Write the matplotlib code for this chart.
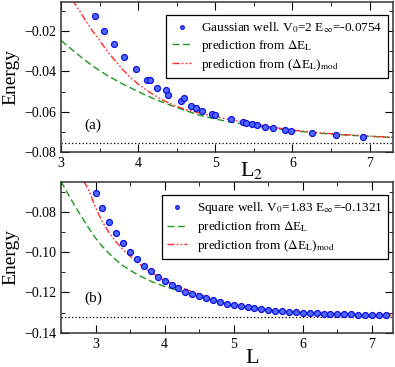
import matplotlib
matplotlib.use("Agg")
import matplotlib.pyplot as plt
from matplotlib.ticker import MultipleLocator, FuncFormatter

plt.rcParams["font.family"] = ["Liberation Serif", "DejaVu Serif"]
plt.rcParams["mathtext.fontset"] = "stix"

# --- panel (a): Gaussian well ---
E_inf_gauss = -0.0754
L2_pts = [3.44, 3.56, 3.69, 3.82, 3.97, 4.11, 4.16, 4.25, 4.36, 4.39, 4.55, 4.59,
          4.68, 4.75, 4.83, 4.96, 5.00, 5.20, 5.36, 5.40, 5.48, 5.54, 5.64, 5.75,
          5.91, 5.98, 6.25, 6.56, 6.91]
E_gauss_pts = [-0.0126, -0.0200, -0.0265, -0.0330, -0.0387, -0.0442, -0.0442, -0.0480,
               -0.0491, -0.0516, -0.0549, -0.0534, -0.0570, -0.0581, -0.0594, -0.0611,
               -0.0618, -0.0637, -0.0653, -0.0657, -0.0660, -0.0667, -0.0675, -0.0683,
               -0.0690, -0.0695, -0.0704, -0.0714, -0.0724]

L2_green = [3.0, 3.2, 3.4, 3.6, 3.8, 4.0, 4.2, 4.4, 4.6, 4.8, 5.0, 5.2, 5.4, 5.6,
            5.8, 6.0, 6.3, 6.6, 7.0, 7.3]
E_gauss_green = [-0.0246, -0.0310, -0.0370, -0.0420, -0.0462, -0.0500, -0.0535, -0.0565,
                 -0.0592, -0.0618, -0.0636, -0.0651, -0.0664, -0.0675, -0.0685, -0.0694,
                 -0.0705, -0.0714, -0.0722, -0.0728]

L2_red = [3.15, 3.2, 3.3, 3.4, 3.5, 3.6, 3.7, 3.8, 3.9, 4.0, 4.1, 4.2, 4.3, 4.4,
          4.5, 4.6, 4.8, 5.0, 5.2, 5.4, 5.6, 5.8, 6.0, 6.3, 6.6, 7.0, 7.3]
E_gauss_red = [-0.0045, -0.0075, -0.0135, -0.0195, -0.0245, -0.0300, -0.0345, -0.0390,
               -0.0430, -0.0462, -0.0490, -0.0516, -0.0538, -0.0557, -0.0573, -0.0588,
               -0.0606, -0.0624, -0.0640, -0.0655, -0.0667, -0.0680, -0.0691, -0.0703,
               -0.0712, -0.0721, -0.0727]

# --- panel (b): square well ---
E_inf_sq = -0.1321
L_pts = [3.0, 3.1, 3.2, 3.3, 3.4, 3.5, 3.6, 3.7, 3.8, 3.9, 4.0, 4.1, 4.2, 4.3, 4.4,
         4.5, 4.6, 4.7, 4.8, 4.9, 5.0, 5.1, 5.2, 5.3, 5.4, 5.5, 5.6, 5.7, 5.8, 5.9,
         6.0, 6.1, 6.2, 6.3, 6.4, 6.5, 6.6, 6.7, 6.8, 6.9, 7.0, 7.1, 7.2]
E_sq_pts = [-0.0705, -0.0782, -0.0848, -0.0905, -0.0953, -0.0998, -0.1036, -0.1068,
            -0.1096, -0.1121, -0.1142, -0.1162, -0.1179, -0.1196, -0.1207, -0.1219,
            -0.1229, -0.1239, -0.1247, -0.1256, -0.1262, -0.1268, -0.1273, -0.1278,
            -0.1283, -0.1287, -0.1290, -0.1293, -0.1297, -0.1298, -0.1300, -0.1302,
            -0.1303, -0.1305, -0.1305, -0.1307, -0.1308, -0.1308, -0.1310, -0.1310,
            -0.1312, -0.1312, -0.1312]

L_green = [2.5, 2.6, 2.7, 2.8, 2.9, 3.0, 3.1, 3.2, 3.3, 3.4, 3.5, 3.6, 3.7, 3.8,
           3.9, 4.0, 4.2, 4.4, 4.6, 4.8, 5.0, 5.2, 5.4, 5.6, 5.8, 6.0, 6.3, 6.6, 7.0, 7.3]
E_sq_green = [-0.0648, -0.0710, -0.0770, -0.0825, -0.0880, -0.0930, -0.0972, -0.1008,
              -0.1040, -0.1068, -0.1090, -0.1110, -0.1128, -0.1144, -0.1158, -0.1170,
              -0.1192, -0.1212, -0.1232, -0.1249, -0.1264, -0.1276, -0.1285, -0.1292,
              -0.1298, -0.1302, -0.1307, -0.1310, -0.1313, -0.1315]

L_red = [2.83, 2.9, 3.0, 3.1, 3.2, 3.3, 3.4, 3.5, 3.6, 3.7, 3.8, 3.9, 4.0, 4.2,
         4.4, 4.6, 4.8, 5.0, 5.2, 5.4, 5.6, 5.8, 6.0, 6.3, 6.6, 7.0, 7.3]
E_sq_red = [-0.0648, -0.0690, -0.0778, -0.0850, -0.0905, -0.0950, -0.0988, -0.1020,
            -0.1050, -0.1075, -0.1100, -0.1120, -0.1140, -0.1170, -0.1196, -0.1222,
            -0.1244, -0.1261, -0.1274, -0.1283, -0.1290, -0.1296, -0.1300, -0.1305,
            -0.1308, -0.1311, -0.1313]

GREEN = "#1e9a1e"
RED = "#ff2a2a"
minus_fmt = FuncFormatter(lambda v, pos: f"{v:.2f}".replace("-", "\u2212"))

fig = plt.figure(figsize=(3.95, 3.67), dpi=100)
ax1 = fig.add_axes([0.1544, 0.5858, 0.8397, 0.4087])
ax2 = fig.add_axes([0.1544, 0.0935, 0.8397, 0.4114])


def draw_panel(ax, Lp, Ep, Lg, Eg, Lr, Er, e_inf, label, leg_top):
    ax.axhline(e_inf, color="k", lw=0.9, ls=(0, (1, 1.8)))
    ax.plot(Lg, Eg, color=GREEN, lw=1.0, dashes=(5, 2.5), label="prediction from $\\Delta$E$_{\\mathrm{L}}$")
    ax.plot(Lr, Er, color=RED, lw=1.0, dashes=(5, 1.6, 1.2, 1.6, 1.2, 1.6),
            label="prediction from ($\\Delta$E$_{\\mathrm{L}}$)$_{\\mathrm{mod}}$")
    ax.plot(Lp, Ep, ls="none", marker="o", ms=4.3, mfc="#4d6bff",
            mec="#1010e0", mew=0.9, label=label)
    h, l = ax.get_legend_handles_labels()
    order = [2, 0, 1]
    leg = ax.legend([h[i] for i in order], [l[i] for i in order], loc="upper right",
                    bbox_to_anchor=(0.986, leg_top), borderaxespad=0,
                    fontsize=9.5, frameon=True, fancybox=False, edgecolor="k",
                    framealpha=1, numpoints=1, markerscale=0.6, handlelength=1.5,
                    handletextpad=0.75, borderpad=0.4, labelspacing=0.22)
    leg.get_frame().set_linewidth(0.9)
    ax.tick_params(which="both", direction="in", top=True, right=True, labelsize=10)
    ax.tick_params(which="major", length=6)
    ax.tick_params(which="minor", length=3)
    ax.xaxis.set_major_locator(MultipleLocator(1))
    ax.xaxis.set_minor_locator(MultipleLocator(0.5))
    ax.yaxis.set_major_locator(MultipleLocator(0.02))
    ax.yaxis.set_minor_locator(MultipleLocator(0.01))
    ax.yaxis.set_major_formatter(minus_fmt)
    for s in ax.spines.values():
        s.set_linewidth(1.1)
        s.set_color("#333333")
    ax.set_ylabel("Energy", fontsize=14)
    ax.yaxis.set_label_coords(-0.125, 0.5)


draw_panel(ax1, L2_pts, E_gauss_pts, L2_green, E_gauss_green, L2_red, E_gauss_red,
           E_inf_gauss, "Gaussian well. V$_0$=2 E$_\\infty$=-0.0754", 0.913)
ax1.set_xlim(3, 7.3)
ax1.set_ylim(-0.08, -0.0055)
ax1.set_xlabel("L$_2$", fontsize=16)
ax1.xaxis.set_label_coords(0.575, -0.05)
ax1.text(0.072, 0.18, "(a)", transform=ax1.transAxes, fontsize=11, va="center")

draw_panel(ax2, L_pts, E_sq_pts, L_green, E_sq_green, L_red, E_sq_red,
           E_inf_sq, "Square well. V$_0$=1.83 E$_\\infty$=-0.1321", 0.912)
ax2.set_xlim(2.5, 7.3)
ax2.set_ylim(-0.14, -0.065)
ax2.set_xlabel("L", fontsize=16)
ax2.xaxis.set_label_coords(0.575, -0.105)
ax2.text(0.072, 0.23, "(b)", transform=ax2.transAxes, fontsize=11, va="center")

fig.savefig("out.png", dpi=100)
